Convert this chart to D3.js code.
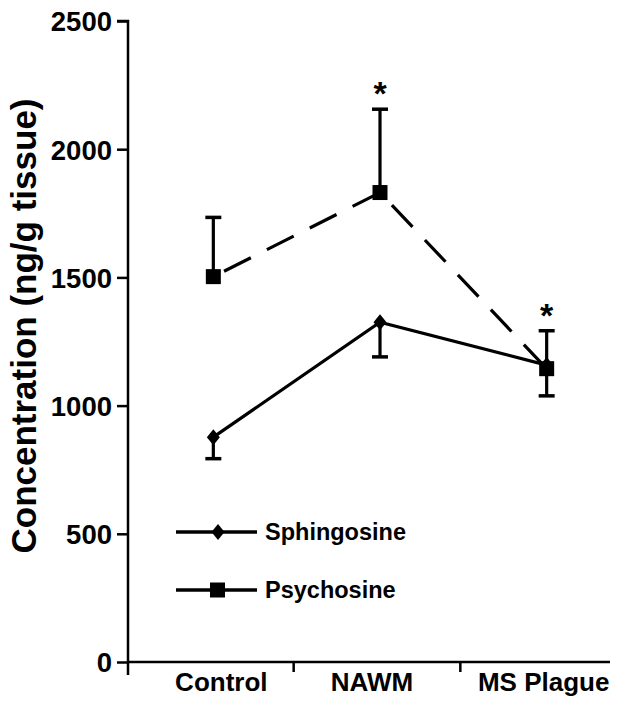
<!DOCTYPE html>
<html>
<head>
<meta charset="utf-8">
<script src="https://cdn.jsdelivr.net/npm/d3@7"></script>
<style>
  body { margin: 0; background: #fff; }
  svg text { font-family: "Liberation Sans", Arial, sans-serif; font-weight: bold; fill: #000; }
</style>
</head>
<body>
<div id="chart"></div>
<script>
// Sphingolipid concentrations by tissue type
var categories = ['Control', 'NAWM', 'MS Plague'];
var sphingosine = [877, 1325, 1158];
var sphingosineErrLow = [793, 1190, 1038];
var psychosine = [1503, 1831, 1144];
var psychosineErrHigh = [1734, 2156, 1292];
var significant = [false, true, true];   // asterisk over psychosine bar
var yTicks = [0, 500, 1000, 1500, 2000, 2500];

var width = 634, height = 706;
var svg = d3.select('#chart').append('svg')
    .attr('width', width)
    .attr('height', height);

var x = d3.scaleBand().domain(categories).range([128, 628]);
var y = d3.scaleLinear().domain([0, 2500]).range([662, 21]);
function cx(c) { return x(c) + x.bandwidth() / 2 + 2; }

// Y axis
var yAxis = svg.append('g')
    .attr('transform', 'translate(128,0)')
    .call(d3.axisLeft(y).tickValues(yTicks).tickSize(11).tickPadding(5).tickFormat(d3.format('d')));
yAxis.select('.domain').attr('stroke-width', 2.5).attr('d', 'M-11,' + y(2500) + 'H0V675');
yAxis.selectAll('.tick line').attr('stroke-width', 2.5);
yAxis.selectAll('text')
    .attr('font-size', '27.5px')
    .attr('font-family', '"Liberation Sans", Arial, sans-serif')
    .attr('font-weight', 'bold')
    .attr('dy', '0.36em');

// X axis: ticks at band boundaries, labels at band centers
svg.append('line')
    .attr('x1', 127).attr('x2', 610)
    .attr('y1', y(0)).attr('y2', y(0))
    .attr('stroke', '#000').attr('stroke-width', 2.5);
svg.selectAll('.xtick')
    .data(categories.slice(1))
    .join('line')
    .attr('class', 'xtick')
    .attr('x1', function (d) { return x(d) - 1; })
    .attr('x2', function (d) { return x(d) - 1; })
    .attr('y1', y(0)).attr('y2', y(0) + 10)
    .attr('stroke', '#000').attr('stroke-width', 2.5);
svg.selectAll('.xlabel')
    .data(categories)
    .join('text')
    .attr('class', 'xlabel')
    .attr('x', function (d, i) { return cx(d) + [8, -8, -3][i]; })
    .attr('y', 691)
    .attr('text-anchor', 'middle')
    .attr('font-size', '26px')
    .text(function (d) { return d; });

// Y axis title
svg.append('text')
    .attr('transform', 'translate(36,326) rotate(-90)')
    .attr('text-anchor', 'middle')
    .attr('font-size', '35px')
    .text('Concentration (ng/g tissue)');

// Error bars
function errBar(xv, v0, v1) {
    svg.append('line')
        .attr('x1', xv).attr('x2', xv)
        .attr('y1', y(v0)).attr('y2', y(v1))
        .attr('stroke', '#000').attr('stroke-width', 3.2);
    svg.append('line')
        .attr('x1', xv - 8).attr('x2', xv + 8)
        .attr('y1', y(v1)).attr('y2', y(v1))
        .attr('stroke', '#000').attr('stroke-width', 3.5);
}
categories.forEach(function (c, i) {
    errBar(cx(c), psychosine[i], psychosineErrHigh[i]);
    errBar(cx(c), sphingosine[i], sphingosineErrLow[i]);
});

// Lines
var line = d3.line()
    .x(function (d) { return cx(d.c); })
    .y(function (d) { return y(d.v); });
function pts(vals) { return categories.map(function (c, i) { return { c: c, v: vals[i] }; }); }

svg.append('path')
    .datum(pts(sphingosine))
    .attr('d', line)
    .attr('fill', 'none').attr('stroke', '#000').attr('stroke-width', 3.2);
svg.append('path')
    .datum(pts(psychosine))
    .attr('d', line)
    .attr('fill', 'none').attr('stroke', '#000').attr('stroke-width', 3.2)
    .attr('stroke-dasharray', '30,18')
    .attr('stroke-dashoffset', -12);

// Markers
var diamond = 'M0,-8L6.5,0L0,8L-6.5,0Z';
svg.selectAll('.sph')
    .data(pts(sphingosine))
    .join('path')
    .attr('class', 'sph')
    .attr('transform', function (d) { return 'translate(' + cx(d.c) + ',' + y(d.v) + ')'; })
    .attr('d', diamond);
svg.selectAll('.psy')
    .data(pts(psychosine))
    .join('rect')
    .attr('class', 'psy')
    .attr('x', function (d) { return cx(d.c) - 7.5; })
    .attr('y', function (d) { return y(d.v) - 7.5; })
    .attr('width', 15).attr('height', 15);

// Significance asterisks
svg.selectAll('.star')
    .data(categories.filter(function (c, i) { return significant[i]; }))
    .join('text')
    .attr('class', 'star')
    .attr('x', function (d) { return cx(d); })
    .attr('y', function (d) { return y(psychosineErrHigh[categories.indexOf(d)]) - 4; })
    .attr('text-anchor', 'middle')
    .attr('font-size', '34px')
    .text('*');

// Legend
var legend = [
    { name: 'Sphingosine', shape: 'diamond', y: 532 },
    { name: 'Psychosine', shape: 'square', y: 590 }
];
legend.forEach(function (l) {
    svg.append('line')
        .attr('x1', 176).attr('x2', 257)
        .attr('y1', l.y).attr('y2', l.y)
        .attr('stroke', '#000').attr('stroke-width', 3.5);
    if (l.shape === 'diamond') {
        svg.append('path').attr('transform', 'translate(218,' + l.y + ')').attr('d', diamond);
    } else {
        svg.append('rect').attr('x', 210).attr('y', l.y - 7.5).attr('width', 15).attr('height', 15);
    }
    svg.append('text')
        .attr('x', 265).attr('y', l.y + 8)
        .attr('font-size', '23.5px')
        .text(l.name);
});
</script>
</body>
</html>
